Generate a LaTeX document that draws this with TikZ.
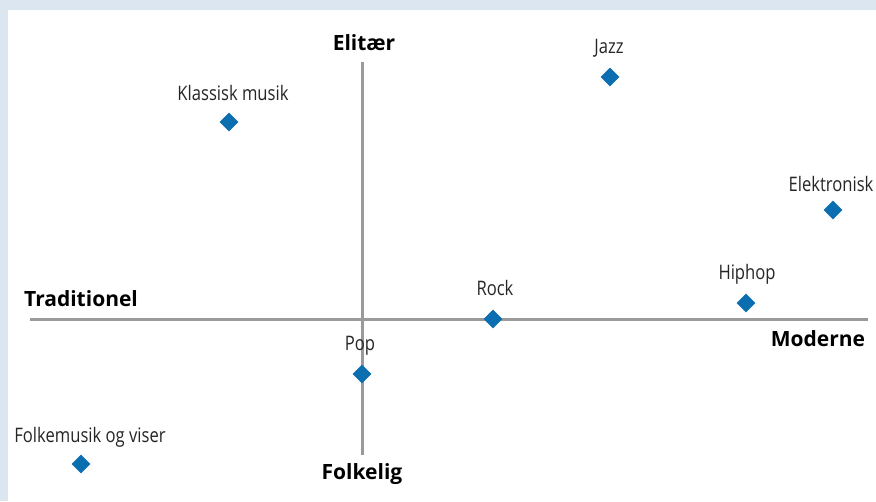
\documentclass[tikz,border=0pt]{standalone}
\usepackage{fontspec}
\setmainfont{Open Sans}
\newfontfamily\narrowfont{Open Sans}[FakeStretch=0.83]
\usetikzlibrary{shapes.geometric}
\definecolor{panelblue}{HTML}{DCE6F1}
\definecolor{genreblue}{HTML}{0A6EB0}
\definecolor{axisgray}{HTML}{9A9A9A}

\begin{document}
\begin{tikzpicture}[x=1pt,y=-1pt, genre/.style={diamond, fill=genreblue, inner sep=0pt, minimum size=19pt}, lbl/.style={font=\narrowfont\fontsize{20}{22}\selectfont, text=black!85, inner sep=0pt}, axlbl/.style={font=\bfseries\fontsize{21}{24}\selectfont, inner sep=0pt}]
                        % frame
                        \fill [panelblue] (0,0) rectangle (876,501);
                        \fill [white] (8,10) rectangle (876,501);
                        \useasboundingbox (0,0) rectangle (876,501);

                        % axes
                        \coordinate (west) at (30,319);
                        \coordinate (east) at (868,319);
                        \coordinate (north) at (362,62);
                        \coordinate (south) at (362,455);
                        \draw [axisgray, line width=3pt] (west) -- (east);
                        \draw [axisgray, line width=3pt] (north) -- (south);

                        \node[axlbl] (elitaer) at (364,43) {Elitær};
                        \node[axlbl] (folkelig) at (362,474) {Folkelig};
                        \node[axlbl] (traditionel) at (81,299) {Traditionel};
                        \node[axlbl] (moderne) at (818,339) {Moderne};

                        % genres
                        \node[genre] (klassisk) at (229,122) {};
                        \node[lbl] at (233,93) {Klassisk musik};

                        \node[genre] (jazz) at (610,77) {};
                        \node[lbl] at (609,48) {Jazz};

                        \node[genre] (elektronisk) at (833,210) {};
                        \node[lbl] at (831,184) {Elektronisk};

                        \node[genre] (hiphop) at (746,303) {};
                        \node[lbl] at (747,274) {Hiphop};

                        \node[genre] (rock) at (493,319) {};
                        \node[lbl] at (495,288) {Rock};

                        \node[genre] (pop) at (362,374) {};
                        \node[lbl] at (360,346) {Pop};

                        \node[genre] (folk) at (81,464) {};
                        \node[lbl] at (90,437) {Folkemusik og viser};
                    \end{tikzpicture}
\end{document}
